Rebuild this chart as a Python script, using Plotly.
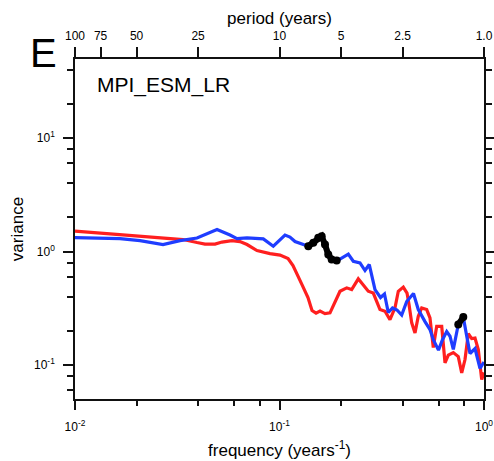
import math
import plotly.graph_objects as go

# ---- data ----
freq_red = [0.01, 0.01858, 0.03373, 0.0395, 0.04322, 0.04838, 0.05234, 0.05857, 0.06408,
            0.06937, 0.07762, 0.08985, 0.1006, 0.1101, 0.1164, 0.1288, 0.1378, 0.1442,
            0.1509, 0.1578, 0.1669, 0.1766, 0.1889, 0.1976, 0.2131, 0.2254, 0.2428,
            0.2569, 0.2717, 0.2875, 0.2987, 0.3100, 0.3280, 0.3469, 0.3671, 0.3810,
            0.4031, 0.4203, 0.4299, 0.4431, 0.4598, 0.4772, 0.4959, 0.5245, 0.5443,
            0.5650, 0.5870, 0.6212, 0.6447, 0.6690, 0.7078, 0.7486, 0.7780, 0.8074,
            0.8380, 0.8708, 0.9036, 0.9378, 0.9745, 1.0]
var_red = [1.517, 1.398, 1.276, 1.201, 1.165, 1.165, 1.213, 1.250, 1.225,
           1.153, 1.021, 0.960, 0.931, 0.868, 0.752, 0.511, 0.393, 0.3015,
           0.2866, 0.2984, 0.2836, 0.2877, 0.377, 0.4462, 0.4782, 0.4620, 0.5741,
           0.5062, 0.4462, 0.4302, 0.3620, 0.3076, 0.2972, 0.2511, 0.3184, 0.4462,
           0.4860, 0.4302, 0.3405, 0.2348, 0.1916, 0.2685, 0.3184, 0.3076, 0.2600,
           0.1421, 0.2191, 0.2191, 0.1041, 0.1220, 0.1284, 0.1184, 0.0850, 0.1114,
           0.1889, 0.1706, 0.1724, 0.1365, 0.0742, 0.0855]

freq_blue = [0.01, 0.0166, 0.02079, 0.02694, 0.03262, 0.0395, 0.04949, 0.05415, 0.05727,
             0.06197, 0.06937, 0.08332, 0.09326, 0.1064, 0.1125, 0.1191, 0.1307, 0.1383,
             0.1463, 0.1547, 0.1608, 0.1669, 0.1732, 0.1800, 0.1904, 0.1976, 0.2170,
             0.2295, 0.2475, 0.2619, 0.2748, 0.2931, 0.3118, 0.3261, 0.3404, 0.3569,
             0.3755, 0.3959, 0.4188, 0.4521, 0.4772, 0.5146, 0.5443, 0.5650, 0.5990,
             0.6267, 0.6571, 0.6820, 0.7078, 0.7486, 0.7920, 0.8230, 0.8541, 0.9036,
             0.9559, 1.0]
var_blue = [1.329, 1.302, 1.250, 1.153, 1.250, 1.316, 1.564, 1.472, 1.398,
            1.302, 1.321, 1.294, 1.114, 1.398, 1.343, 1.225, 1.165, 1.114,
            1.193, 1.321, 1.365, 1.153, 0.941, 0.850, 0.833, 0.859, 0.950,
            0.821, 0.795, 0.680, 0.768, 0.462, 0.393, 0.422, 0.290, 0.318,
            0.305, 0.275, 0.362, 0.426, 0.308, 0.241, 0.205, 0.167, 0.135,
            0.167, 0.197, 0.179, 0.137, 0.227, 0.264, 0.180, 0.126, 0.139,
            0.093, 0.106]

# frequency bands where the blue spectrum is marked significant (black dots)
sig_ranges = [(0.137, 0.191), (0.745, 0.795)]

x_major = [0.01, 0.1, 1.0]
x_major_text = ["10<sup>-2</sup>", "10<sup>-1</sup>", "10<sup>0</sup>"]
x_minor = [0.02, 0.04, 0.06, 0.08, 0.2, 0.4, 0.6, 0.8]
y_major = [0.1, 1.0, 10.0]
y_major_text = ["10<sup>-1</sup>", "10<sup>0</sup>", "10<sup>1</sup>"]
y_minor = [0.06, 0.08, 0.2, 0.4, 0.6, 0.8, 2, 4, 6, 8, 20, 40]
period_vals = [100, 75, 50, 25, 10, 5, 2.5, 1.0]
period_text = ["100", "75", "50", "25", "10", "5", "2.5", "1.0"]
x_lo, x_hi = 0.01, 1.0
y_lo, y_hi = 0.05, 50

FONT = "Liberation Sans, Arial, Helvetica, sans-serif"
XR = [math.log10(x_lo), math.log10(x_hi)]
YR = [math.log10(y_lo), math.log10(y_hi)]
INK = "#111111"

fig = go.Figure()
fig.add_trace(go.Scatter(x=freq_red, y=var_red, mode="lines",
                         line=dict(color="#ff1f1f", width=3.2), hoverinfo="skip"))
fig.add_trace(go.Scatter(x=freq_blue, y=var_blue, mode="lines",
                         line=dict(color="#1f3dff", width=3.2), hoverinfo="skip"))
for lo, hi in sig_ranges:
    xs = [f for f, v in zip(freq_blue, var_blue) if lo <= f <= hi]
    ys = [v for f, v in zip(freq_blue, var_blue) if lo <= f <= hi]
    fig.add_trace(go.Scatter(x=xs, y=ys, mode="lines+markers",
                             line=dict(color="black", width=6),
                             marker=dict(color="black", size=8), hoverinfo="skip"))
# invisible trace so the top (period) axis is drawn
fig.add_trace(go.Scatter(x=[x_lo, x_hi], y=[1, 1], xaxis="x2", yaxis="y",
                         mode="lines", line=dict(width=0), opacity=0,
                         hoverinfo="skip"))

axis_common = dict(showgrid=False, zeroline=False, ticks="outside",
                   tickcolor=INK, tickwidth=1.6, showline=True,
                   linecolor=INK, linewidth=1.6)

fig.update_layout(
    width=494, height=461,
    margin=dict(l=75, r=10, t=59, b=62, autoexpand=False),
    paper_bgcolor="white", plot_bgcolor="white",
    showlegend=False,
    font=dict(family=FONT, color="black", size=12),
    xaxis=dict(type="log", range=XR, tickmode="array", tickvals=x_major,
               ticktext=x_major_text, ticklen=9, mirror=False,
               tickfont=dict(size=12), ticklabelstandoff=7,
               minor=dict(tickmode="array", tickvals=x_minor, ticks="outside",
                          ticklen=5, tickcolor=INK, tickwidth=1.6, showgrid=False),
               title=dict(text="frequency (years<sup>-1</sup>)", font=dict(size=17),
                          standoff=11),
               **axis_common),
    xaxis2=dict(type="log", range=XR, overlaying="x", side="top", anchor="y",
                tickmode="array", tickvals=[1.0 / p for p in period_vals],
                ticktext=period_text, ticklen=10, tickfont=dict(size=12),
                ticklabelstandoff=2,
                title=dict(text="period (years)", font=dict(size=17), standoff=0),
                **axis_common),
    yaxis=dict(type="log", range=YR, tickmode="array", tickvals=y_major,
               ticktext=y_major_text, ticklen=10, mirror="ticks",
               tickfont=dict(size=12), ticklabelstandoff=6,
               minor=dict(tickmode="array", tickvals=y_minor, ticks="outside",
                          ticklen=6, tickcolor=INK, tickwidth=1.6, showgrid=False),
               title=dict(text="variance", font=dict(size=17), standoff=6),
               **axis_common),
    annotations=[
        dict(text="E", x=-0.076, y=1.018, xref="paper", yref="paper",
             xanchor="center", yanchor="middle", showarrow=False,
             font=dict(size=40, family=FONT, color="black")),
        dict(text="MPI_ESM_LR", x=0.2164, y=0.924, xref="paper", yref="paper",
             xanchor="center", yanchor="middle", showarrow=False,
             font=dict(size=21, family=FONT, color="black")),
    ],
)

fig.write_html("out.html", config={"displayModeBar": False},
               post_script="document.body.style.margin='0';"
                           "document.body.style.overflow='hidden';")
